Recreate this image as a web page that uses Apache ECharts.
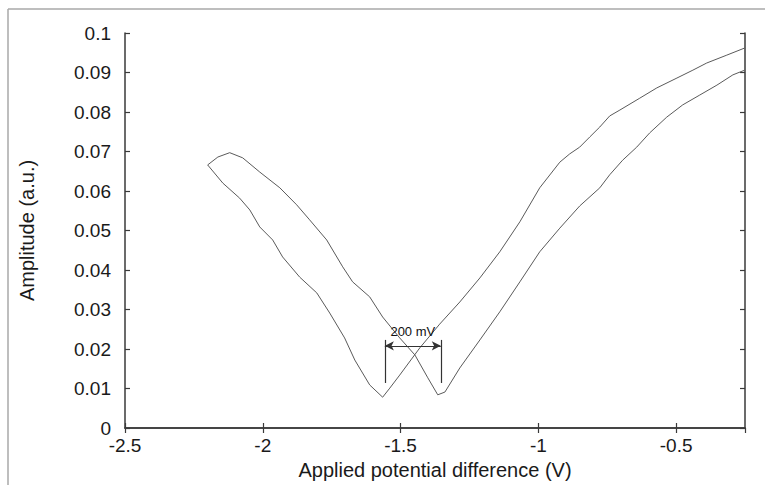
<!DOCTYPE html>
<html>
<head>
<meta charset="utf-8">
<script src="https://cdn.jsdelivr.net/npm/echarts@6/dist/echarts.min.js"></script>
<style>
  html, body { margin: 0; padding: 0; background: #fff; }
  #chart { width: 765px; height: 485px; }
</style>
</head>
<body>
<div id="chart"></div>
<script>
// reverse sweep: from -0.25 V down to -2.2 V
var sweepDownX = [-0.251, -0.316, -0.389, -0.439, -0.497, -0.570, -0.632, -0.704, -0.741, -0.777,
  -0.813, -0.850, -0.886, -0.922, -0.995, -1.067, -1.140, -1.212, -1.285, -1.358,
  -1.430, -1.503, -1.539, -1.565, -1.612, -1.666, -1.703, -1.757, -1.804, -1.866,
  -1.928, -1.964, -2.011, -2.047, -2.084, -2.145, -2.200];
var sweepDownY = [0.0962, 0.0944, 0.0924, 0.0906, 0.0886, 0.0861, 0.0835, 0.0805, 0.0790, 0.0762,
  0.0737, 0.0711, 0.0694, 0.0673, 0.0608, 0.0522, 0.0446, 0.0380, 0.0319, 0.0263,
  0.0203, 0.0134, 0.0101, 0.0078, 0.0109, 0.0172, 0.0228, 0.0291, 0.0342, 0.0382,
  0.0433, 0.0476, 0.0509, 0.0552, 0.0582, 0.0620, 0.0666];

// forward sweep: from -2.2 V back up to -0.25 V
var sweepUpX = [-2.200, -2.163, -2.120, -2.073, -2.011, -1.938, -1.877, -1.830, -1.768, -1.710,
  -1.674, -1.612, -1.565, -1.503, -1.448, -1.401, -1.365, -1.339, -1.285, -1.212,
  -1.140, -1.067, -0.995, -0.922, -0.850, -0.777, -0.741, -0.694, -0.643, -0.596,
  -0.534, -0.476, -0.414, -0.352, -0.294, -0.251];
var sweepUpY = [0.0666, 0.0686, 0.0697, 0.0684, 0.0648, 0.0608, 0.0565, 0.0527, 0.0476, 0.0408,
  0.0370, 0.0332, 0.0281, 0.0228, 0.0185, 0.0127, 0.0084, 0.0091, 0.0152, 0.0223,
  0.0294, 0.0370, 0.0446, 0.0506, 0.0562, 0.0608, 0.0641, 0.0678, 0.0711, 0.0747,
  0.0787, 0.0818, 0.0843, 0.0868, 0.0894, 0.0906];

// 200 mV marker between the two minima
var markLeftX = -1.557;
var markRightX = -1.354;
var markArrowY = 0.0208;
var markTopY = 0.0223;
var markBottomY = 0.0114;
var markText = '200 mV';

var xTicks = { min: -2.5, max: -0.25, step: 0.5 };
var yTicks = { min: 0, max: 0.1, step: 0.01 };

function pairs(xs, ys) {
  return xs.map(function(x, i) { return [x, ys[i]]; });
}

var ink = '#1a1a1a';
var lineGray = '#5a5a5a';
var font = 'Liberation Sans, Arial, sans-serif';

var chart = echarts.init(document.getElementById('chart'), null, { renderer: 'svg' });

var axisCommon = {
  axisLine: { show: true, lineStyle: { color: '#3a3a3a', width: 1.5 } },
  axisTick: { show: true, inside: true, length: 5, lineStyle: { color: '#3a3a3a', width: 1.2 } },
  splitLine: { show: false }
};

chart.setOption({
  animation: false,
  backgroundColor: '#fff',
  grid: { left: 125, right: 20, top: 33, bottom: 57 },
  graphic: [
    { type: 'line', shape: { x1: 8, y1: 9, x2: 8, y2: 485 }, style: { stroke: '#a8a8a8', lineWidth: 1.5 } },
    { type: 'line', shape: { x1: 8, y1: 9, x2: 765, y2: 9 }, style: { stroke: '#a8a8a8', lineWidth: 1.5 } }
  ],
  xAxis: [
    Object.assign({
      type: 'value',
      min: xTicks.min, max: xTicks.max, interval: xTicks.step,
      name: 'Applied potential difference (V)',
      nameLocation: 'middle',
      nameGap: 30,
      nameTextStyle: { color: ink, fontSize: 20, fontFamily: font },
      axisLabel: {
        color: ink, fontSize: 19, fontFamily: font, margin: 8,
        showMaxLabel: false,
        formatter: function(v) { return String(+v.toFixed(2)); }
      }
    }, axisCommon),
    Object.assign({
      type: 'value', position: 'top',
      min: xTicks.min, max: xTicks.max, interval: xTicks.step,
      axisLabel: { show: false }
    }, axisCommon)
  ],
  yAxis: [
    Object.assign({
      type: 'value',
      min: yTicks.min, max: yTicks.max, interval: yTicks.step,
      name: 'Amplitude (a.u.)',
      nameLocation: 'middle',
      nameGap: 88,
      nameTextStyle: { color: ink, fontSize: 20, fontFamily: font },
      axisLabel: {
        color: ink, fontSize: 19, fontFamily: font, margin: 14,
        formatter: function(v) { return String(+v.toFixed(2)); }
      }
    }, axisCommon),
    Object.assign({
      type: 'value', position: 'right',
      min: yTicks.min, max: yTicks.max, interval: yTicks.step,
      axisLabel: { show: false }
    }, axisCommon)
  ],
  series: [
    {
      name: 'reverse',
      type: 'line',
      data: pairs(sweepDownX, sweepDownY),
      showSymbol: false,
      lineStyle: { color: lineGray, width: 1 },
      markLine: {
        silent: true,
        symbol: ['none', 'none'],
        lineStyle: { color: '#333', width: 1.2, type: 'solid' },
        label: { show: false },
        data: [
          [{ coord: [markLeftX, markTopY] }, { coord: [markLeftX, markBottomY] }],
          [{ coord: [markRightX, markTopY] }, { coord: [markRightX, markBottomY] }],
          [
            { coord: [markLeftX, markArrowY], symbol: 'arrow', symbolSize: [7, 9] },
            {
              coord: [markRightX, markArrowY], symbol: 'arrow', symbolSize: [7, 9],
              label: {
                show: true, position: 'middle', formatter: markText,
                color: '#111', fontSize: 13, fontFamily: font, distance: 8
              }
            }
          ]
        ]
      }
    },
    {
      name: 'forward',
      type: 'line',
      data: pairs(sweepUpX, sweepUpY),
      showSymbol: false,
      lineStyle: { color: lineGray, width: 1 }
    }
  ]
});
window.addEventListener('resize', function() { chart.resize(); });
</script>
</body>
</html>
